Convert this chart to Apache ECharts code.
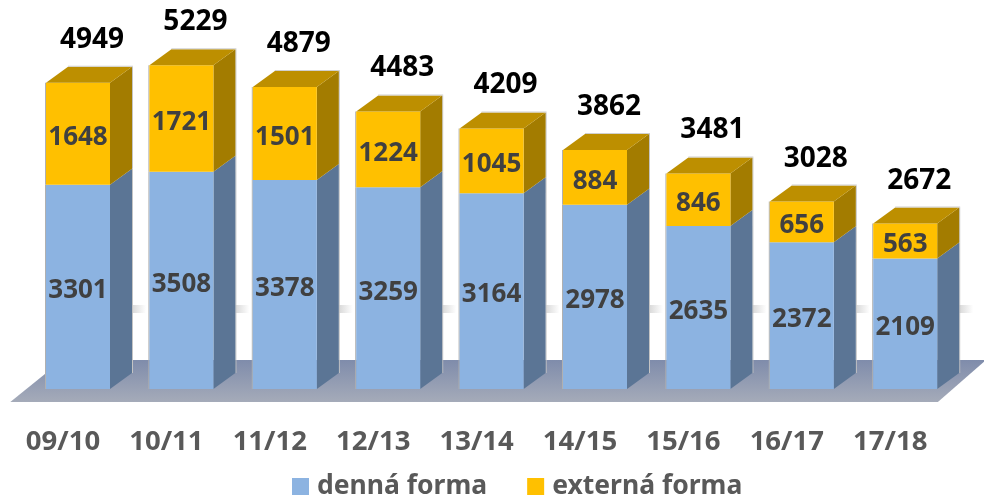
<!DOCTYPE html>
<html>
<head>
<meta charset="utf-8">
<style>
    html,body{margin:0;padding:0;background:#fff;}
    #main{width:984px;height:497px;}
</style>
<script src="https://cdn.jsdelivr.net/npm/echarts@6/dist/echarts.min.js"></script>
</head>
<body>
<div id="main"></div>
<script>
var categories = ['09/10','10/11','11/12','12/13','13/14','14/15','15/16','16/17','17/18'];
var dennaForma = [3301,3508,3378,3259,3164,2978,2635,2372,2109];
var externaForma = [1648,1721,1501,1224,1045,884,846,656,563];
var totals = [4949,5229,4879,4483,4209,3862,3481,3028,2672];

var FONT = '"Noto Sans", sans-serif';
var BAR_W = 64;
var DEPTH_X = 22;
var DEPTH_Y = 16;

// kvader: predna stena, bok, pripadne vrch
function renderBox(colors, withTotal) {
    return function(params, api) {
        var idx = api.value(0);
        var lo = api.coord([idx, api.value(1)]);
        var hi = api.coord([idx, api.value(2)]);
        var x0 = lo[0] - BAR_W / 2;
        var x1 = lo[0] + BAR_W / 2;
        var kids = [
            // svetle hrany okolo kvadra
            {
                type: 'rect',
                shape: {x: x0 - 1, y: hi[1], width: 1, height: lo[1]-hi[1]},
                style: {fill: '#b0b0b0'}
            },
            {
                type: 'rect',
                shape: {x: x1 + DEPTH_X, y: hi[1]-DEPTH_Y, width: 1, height: lo[1]-hi[1]},
                style: {fill: '#c4c4c4'}
            },
            {
                type: 'polygon',
                shape: {points: [[x1,hi[1]],[x1+DEPTH_X,hi[1]-DEPTH_Y],[x1+DEPTH_X,lo[1]-DEPTH_Y],[x1,lo[1]]]},
                style: {fill: colors.side}
            },
            {
                type: 'rect',
                shape: {x: x0, y: hi[1], width: BAR_W, height: lo[1]-hi[1]},
                style: {fill: colors.front}
            },
            {
                type: 'text',
                x: lo[0],
                y: (lo[1]+hi[1])/2 + 4,
                style: {
                    text: String(api.value(3)),
                    fill: '#404040',
                    font: 'bold 26px ' + FONT,
                    textAlign: 'center',
                    textVerticalAlign: 'middle'
                }
            }
        ];
        if (withTotal) {
            kids.push({
                type: 'polygon',
                shape: {points: [[x0,hi[1]],[x0+DEPTH_X,hi[1]-DEPTH_Y],[x1+DEPTH_X,hi[1]-DEPTH_Y],[x1,hi[1]]]},
                style: {fill: colors.top}
            });
            kids.push({
                type: 'rect',
                shape: {x: x0+DEPTH_X, y: hi[1]-DEPTH_Y-1, width: BAR_W+1, height: 1},
                style: {fill: '#d0d0d0'}
            });
            kids.push({
                type: 'text',
                x: lo[0] + 14,
                y: hi[1] - 43,
                style: {
                    text: String(api.value(4)),
                    fill: '#000',
                    font: 'bold 28px ' + FONT,
                    textAlign: 'center',
                    textVerticalAlign: 'middle'
                }
            });
        } else {
            // slaby tien za bokom stlpca
            kids.unshift({
                type: 'rect',
                shape: {x: x1 + DEPTH_X, y: lo[1] - 84, width: 14, height: 8},
                style: {
                    fill: new echarts.graphic.LinearGradient(0,0,1,0,[
                        {offset: 0, color: '#d8d8d8'},
                        {offset: 1, color: '#ffffff'}
                    ])
                }
            });
        }
        return {type: 'group', children: kids};
    };
}

function renderFloor(params, api) {
    var g = params.coordSys;
    var base = g.y + g.height;
    return {
        type: 'polygon',
        shape: {points: [
            [g.x - 16, base + 13],
            [g.x + 36, base - 29],
            [g.x + g.width + 29, base - 29],
            [g.x + g.width - 19, base + 13]
        ]},
        style: {
            fill: new echarts.graphic.LinearGradient(0,0,0,1,[
                {offset: 0, color: '#7f8cab'},
                {offset: 1, color: '#a5abb9'}
            ])
        }
    };
}

var dennaData = categories.map(function(c,i){
    return [i, 0, dennaForma[i], dennaForma[i]];
});
var externaData = categories.map(function(c,i){
    return [i, dennaForma[i], dennaForma[i]+externaForma[i], externaForma[i], totals[i]];
});

var chart = echarts.init(document.getElementById('main'));
chart.setOption({
    animation: false,
    backgroundColor: '#fff',
    grid: {left: 26.3, right: 27.1, top: 17.6, height: 371.4},
    xAxis: {
        type: 'category',
        data: categories,
        axisLine: {show: false},
        axisTick: {show: false},
        axisLabel: {
            margin: 39,
            padding: [0,30,0,0],
            color: '#595959',
            fontFamily: FONT,
            fontWeight: 'bold',
            fontSize: 27.5
        }
    },
    yAxis: {type: 'value', min: 0, max: 6000, show: false},
    legend: {
        data: ['denná forma','externá forma'],
        left: 287,
        top: 468,
        itemWidth: 17,
        itemHeight: 17,
        itemGap: 40,
        icon: 'rect',
        textStyle: {color: '#595959', fontFamily: FONT, fontWeight: 'bold', fontSize: 26.5, padding: [0,0,0,3]}
    },
    series: [
        {
            type: 'custom',
            name: 'podlaha',
            silent: true,
            data: [[0]],
            renderItem: renderFloor,
            z: 1
        },
        {
            type: 'custom',
            name: 'denná forma',
            itemStyle: {color: '#8cb3e1'},
            data: dennaData,
            renderItem: renderBox({front: '#8cb3e1', side: '#5b7595'}, false),
            z: 2
        },
        {
            type: 'custom',
            name: 'externá forma',
            itemStyle: {color: '#ffc000'},
            data: externaData,
            renderItem: renderBox({front: '#ffc000', side: '#a37c00', top: '#bd8f00'}, true),
            z: 3
        }
    ]
});
</script>
</body>
</html>
